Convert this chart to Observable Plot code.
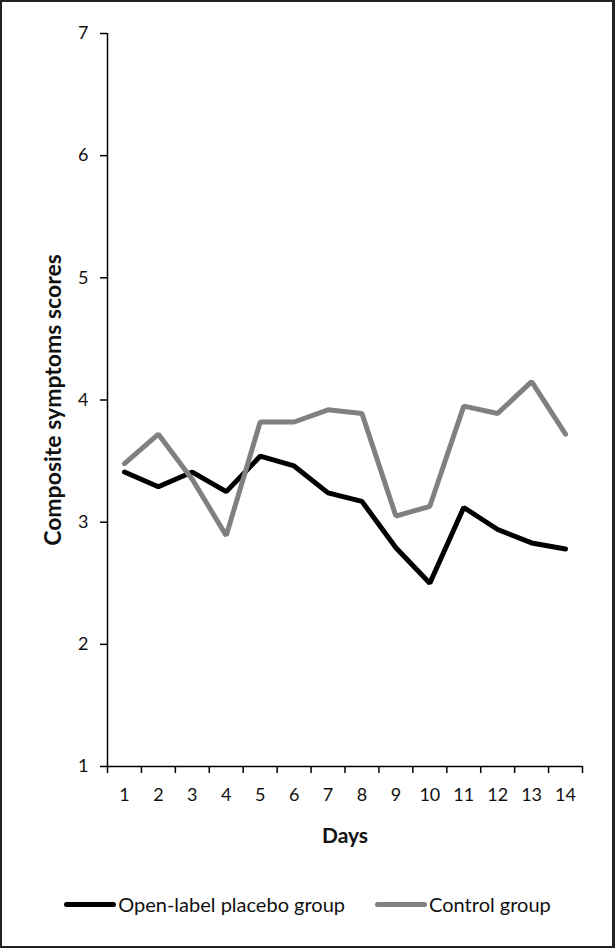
<!DOCTYPE html>
<html>
<head>
<meta charset="utf-8">
<script src="https://cdn.jsdelivr.net/npm/d3@7"></script>
<script src="https://cdn.jsdelivr.net/npm/@observablehq/plot@0.6"></script>
<style>
  html, body { margin: 0; padding: 0; background: #fff; }
  #wrap { position: relative; width: 615px; height: 948px; overflow: hidden; font-family: Lato, "Open Sans", sans-serif; }
  #frame { position: absolute; left: 0; top: 0; width: 615px; height: 948px; box-sizing: border-box; border: 2px solid #222; border-right-width: 3px; pointer-events: none; }
  #chart svg [aria-label="y-axis label"] text { font-weight: bold; font-size: 23px; }
  #chart svg [aria-label="x-axis label"] text { font-weight: bold; font-size: 21px; }
  #legend { position: absolute; left: 0; width: 615px; top: 892px; display: flex; justify-content: center; align-items: center; font-size: 20px; color: #111; }
  .item { display: flex; align-items: center; margin: 0 15px; }
  .sw { width: 52px; height: 5px; border-radius: 3px; margin-right: 2px; }
</style>
</head>
<body>
<div id="wrap">
  <div id="chart"></div>
  <div id="legend"></div>
  <div id="frame"></div>
</div>
<script>
const days = [1, 2, 3, 4, 5, 6, 7, 8, 9, 10, 11, 12, 13, 14];
const openLabel = [3.41, 3.29, 3.41, 3.25, 3.54, 3.46, 3.24, 3.17, 2.79, 2.50, 3.12, 2.94, 2.83, 2.78];
const control = [3.48, 3.72, 3.35, 2.89, 3.82, 3.82, 3.92, 3.89, 3.05, 3.13, 3.95, 3.89, 4.15, 3.72];
const seriesNames = ["Open-label placebo group", "Control group"];
const seriesColors = ["#000000", "#808080"];
const yTicks = [1, 2, 3, 4, 5, 6, 7];
const yLabel = "Composite symptoms scores";
const xLabel = "Days";

const data = [];
days.forEach((d, i) => {
  data.push({day: d, value: openLabel[i], group: seriesNames[0]});
  data.push({day: d, value: control[i], group: seriesNames[1]});
});
const boundaries = days.map(d => d - 0.5).concat([days[days.length - 1] + 0.5]);

const plot = Plot.plot({
  width: 615,
  height: 850,
  marginTop: 33,
  marginBottom: 84,
  marginLeft: 107,
  marginRight: 33,
  style: {fontFamily: "Lato, 'Open Sans', sans-serif", fontSize: "18px", color: "#111", background: "transparent"},
  x: {type: "linear", domain: [0.5, 14.5]},
  y: {domain: [1, 7]},
  color: {domain: seriesNames, range: seriesColors},
  marks: [
    Plot.axisY({ticks: yTicks, tickSize: 7, tickPadding: 12, tickFormat: d => String(d), label: yLabel, labelAnchor: "center", labelArrow: "none", labelOffset: 63, stroke: "#000", strokeWidth: 1.5}),
    Plot.axisX({ticks: boundaries, tickSize: 7, tickFormat: () => "", label: null, stroke: "#000", strokeWidth: 1.5}),
    Plot.axisX({ticks: days, tickSize: 0, tickPadding: 22, tickFormat: d => String(d), label: xLabel, labelAnchor: "center", labelArrow: "none", labelOffset: 76}),
    Plot.ruleX([0.5], {stroke: "#000", strokeWidth: 1.5}),
    Plot.ruleY([1], {stroke: "#000", strokeWidth: 1.5}),
    Plot.line(data, {x: "day", y: "value", z: "group", stroke: "group", strokeWidth: 5, strokeLinejoin: "miter", strokeLinecap: "round"})
  ]
});
document.getElementById("chart").appendChild(plot);

const legend = document.getElementById("legend");
seriesNames.forEach((name, i) => {
  const item = document.createElement("div");
  item.className = "item";
  const sw = document.createElement("div");
  sw.className = "sw";
  sw.style.background = seriesColors[i];
  const label = document.createElement("span");
  label.textContent = name;
  item.appendChild(sw);
  item.appendChild(label);
  legend.appendChild(item);
});
</script>
</body>
</html>
